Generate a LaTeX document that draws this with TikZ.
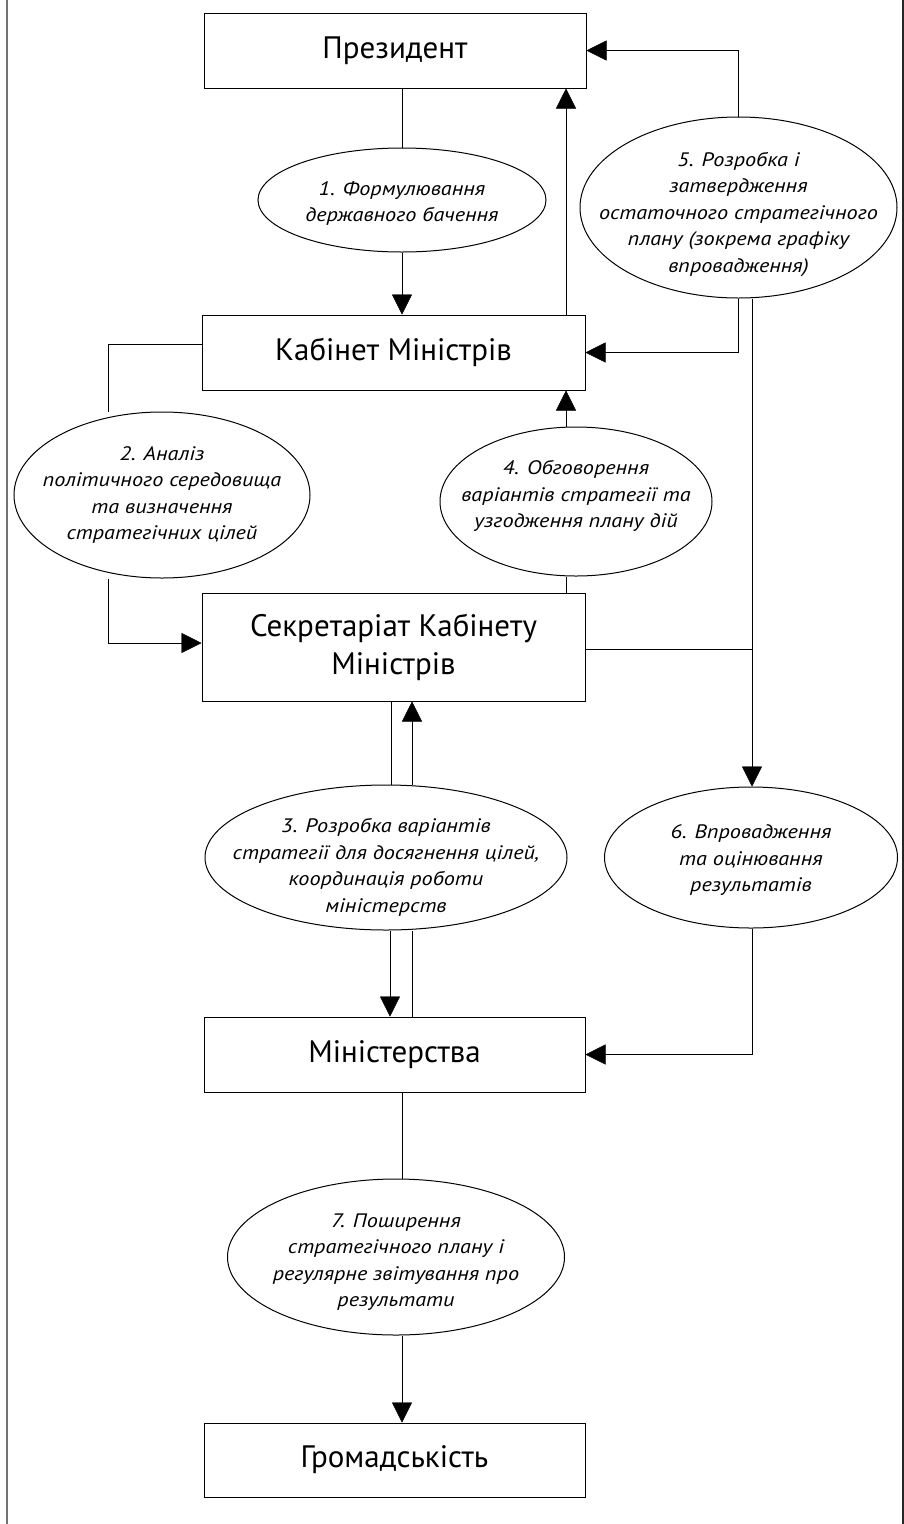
\documentclass[tikz,border=0pt]{standalone}
\usepackage{fontspec}
\setmainfont{PT Sans}
\newfontfamily\ellfont[FakeStretch=1.14]{PT Sans}
\usetikzlibrary{arrows.meta,backgrounds,shapes.geometric}
\newcommand\zbox[2][0]{\raisebox{\dimexpr-0.25em-#1pt\relax}[0pt][0pt]{\makebox[0pt]{\begin{tabular}{@{}c@{}}#2\end{tabular}}}}
\tikzset{
  box/.style={draw, line width=1pt, fill=white, minimum width=383pt, minimum height=75pt,
    inner sep=0pt, font=\fontsize{31}{38}\selectfont, align=center},
  ell/.style={ellipse, draw, line width=1pt, fill=white, inner sep=0pt,
    font=\ellfont\itshape\fontsize{19.5}{26.5}\selectfont},
  arr/.style={-{Triangle[length=20pt,width=20pt]}},
  conn/.style={line width=1pt},
}
\begin{document}
\begin{tikzpicture}[x=1pt,y=-1pt]
\useasboundingbox (0,0) rectangle (904,1524);
\draw[line width=1.4pt, black!55] (7,0) -- (7,1524);
\draw[line width=1.4pt, black!85] (903,0) -- (903,1524);

\coordinate (x108) at (108,0);
\coordinate (x390) at (390,0);
\coordinate (x391) at (391,0);
\coordinate (x402) at (402,0);
\coordinate (x412) at (412,0);
\coordinate (x566) at (566,0);
\coordinate (x752) at (752,0);

\node[box, minimum width=382pt] (pres) at (395,50.5) {Президент};
\node[box] (kab) at (393.5,352.5) {Кабінет Міністрів};
\node[box, minimum height=108pt] (sek) at (393.5,647) {Секретаріат Кабінету\\Міністрів};
\node[box, minimum width=381pt] (min) at (394.5,1054.5) {Міністерства};
\node[box, minimum width=381pt, minimum height=74pt] (hrom) at (394.5,1460) {Громадськість};

\node[ell, minimum width=288pt, minimum height=104pt] (e1) at (402,200)
  {\zbox[3.5]{1. Формулювання\\державного бачення}};
\node[ell, minimum width=317pt, minimum height=181pt] (e5) at (738.5,207.5)
  {\zbox[7]{5. Розробка і\\затвердження\\остаточного стратегічного\\плану (зокрема графіку\\впровадження)}};
\node[ell, minimum width=296pt, minimum height=166pt] (e2) at (162,495)
  {\zbox[0]{2. Аналіз\\політичного середовища\\та визначення\\стратегічних цілей}};
\node[ell, minimum width=272pt, minimum height=149pt] (e4) at (576,501.5)
  {\zbox[-5]{4. Обговорення\\варіантів стратегії та\\узгодження плану дій}};
\node[ell, minimum width=362pt, minimum height=145pt] (e3) at (386,857.5)
  {\zbox[10]{3. Розробка варіантів\\стратегії для досягнення цілей,\\координація роботи\\міністерств}};
\node[ell, minimum width=293pt, minimum height=141pt] (e6) at (751,857.5)
  {\zbox[2.5]{6. Впровадження\\та оцінювання\\результатів}};
\node[ell, minimum width=337pt, minimum height=156pt] (e7) at (396,1257)
  {\zbox[5]{7. Поширення\\стратегічного плану і\\регулярне звітування про\\результати}};

\begin{scope}[on background layer, conn]
\draw (x402 |- pres.south) -- (x402 |- e1.north);
\draw[arr] (e1.south) -- (e1.south |- kab.north);
\draw[arr] (x566 |- kab.north) -- (x566 |- pres.south);
\draw[arr] (e5.north) |- (pres.east);
\draw[arr] (e5.south) |- (kab.east);
\draw[arr] (x752 |- e5.south) -- (x752 |- e6.north);
\draw ([yshift=-2pt]sek.east) -- ([yshift=-2pt]sek.east -| x752);
\draw ([yshift=8.5pt]kab.west) -| (x108 |- e2.north);
\draw[arr] (x108 |- e2.south) |- ([yshift=4pt]sek.west);
\draw[arr] (x566 |- e4.north) -- (x566 |- kab.south);
\draw (x566 |- sek.north) -- (x566 |- e4.south);
\draw (x391 |- sek.south) -- (x391 |- e3.north);
\draw[arr] (x412 |- e3.north) -- (x412 |- sek.south);
\draw[arr] (x390 |- e3.south) -- (x390 |- min.north);
\draw (x412 |- min.north) -- (x412 |- e3.south);
\draw[arr] (x752 |- e6.south) |- (min.east);
\draw (x402 |- min.south) -- (x402 |- e7.north);
\draw[arr] (x402 |- e7.south) -- (x402 |- hrom.north);
\end{scope}
\end{tikzpicture}
\end{document}
